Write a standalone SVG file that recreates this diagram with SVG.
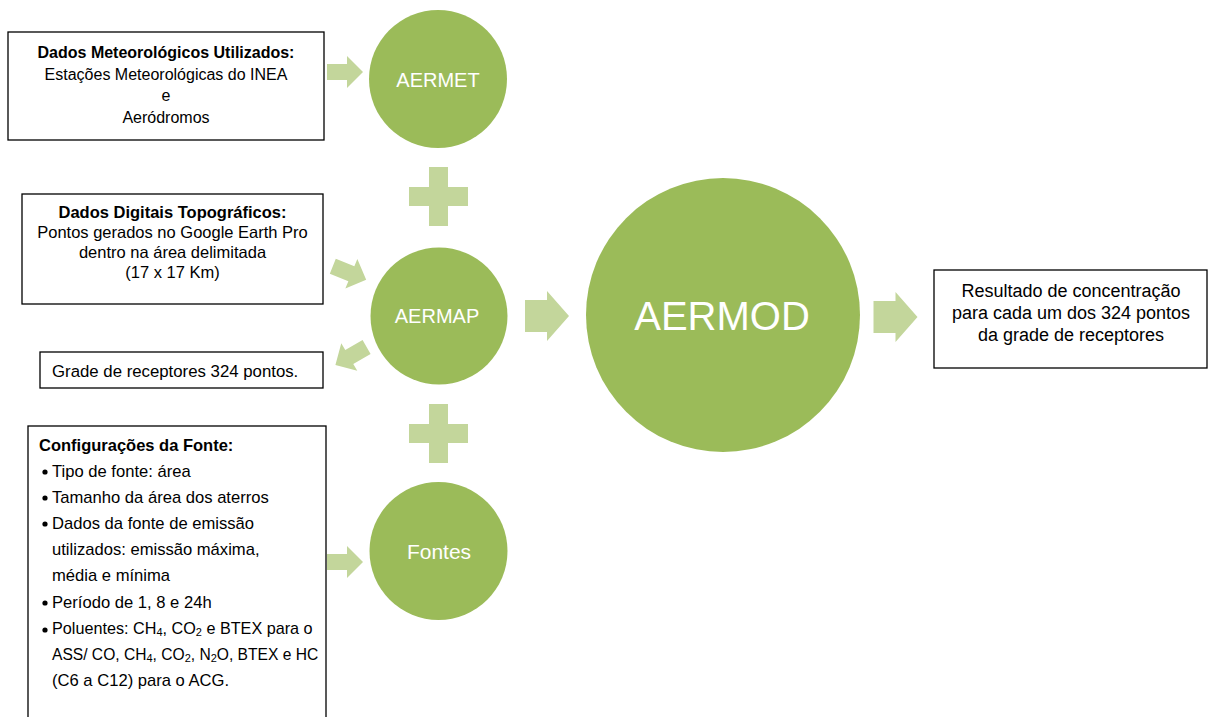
<svg xmlns="http://www.w3.org/2000/svg" width="1208" height="717" viewBox="0 0 1208 717">
<defs>
<style>
.box{fill:#fff;stroke:#000;stroke-width:1.3}
.circ{fill:#9BBB59}
.light{fill:#C3D69B}
.t{font-family:"Liberation Sans",Arial,sans-serif;fill:#000}
.b{font-weight:bold}
.ct{font-family:"Liberation Sans",Arial,sans-serif;fill:#fff;text-anchor:middle}
.mid{text-anchor:middle}
.sub{font-size:11px}
</style>
<path id="arS" d="M-18,-8 H2 V-16 L18,0 L2,16 V8 H-18 Z"/>
<path id="arL" d="M-22,-16 H0 V-25 L22,0 L0,25 V16 H-22 Z"/>
<path id="plus" d="M-9.5,-29.5 H9.5 V-9.5 H29.5 V9.5 H9.5 V29.5 H-9.5 V9.5 H-29.5 V-9.5 H-9.5 Z"/>
</defs>
<rect width="1208" height="717" fill="#fff"/>

<g id="connectors">
<use href="#arS" class="light" transform="translate(345,72)"/>
<use href="#arS" class="light" transform="translate(349.5,273) rotate(22)"/>
<use href="#arS" class="light" transform="translate(351,356) rotate(150)"/>
<use href="#arS" class="light" transform="translate(345,562)"/>
<use href="#plus" class="light" transform="translate(438.5,196.5)"/>
<use href="#plus" class="light" transform="translate(438.5,433.5)"/>
<use href="#arL" class="light" transform="translate(547,316)"/>
<use href="#arL" class="light" transform="translate(895.5,317)"/>
</g>

<g id="box-meteo">
<rect class="box" x="8" y="32" width="316" height="108"/>
<text class="t mid" font-size="16" x="166"><tspan class="b" x="166" y="58">Dados Meteorológicos Utilizados:</tspan><tspan x="166" y="80">Estações Meteorológicas do INEA</tspan><tspan x="166" y="101">e</tspan><tspan x="166" y="123">Aeródromos</tspan></text>
</g>

<g id="box-topo">
<rect class="box" x="22" y="194" width="301" height="110"/>
<text class="t mid" font-size="16.5" x="172.5"><tspan class="b" x="172.5" y="218">Dados Digitais Topográficos:</tspan><tspan x="172.5" y="238">Pontos gerados no Google Earth Pro</tspan><tspan x="172.5" y="258">dentro na área delimitada</tspan><tspan x="172.5" y="278">(17 x 17 Km)</tspan></text>
</g>

<g id="box-grade">
<rect class="box" x="40" y="352" width="283" height="36"/>
<text class="t" font-size="16.8" x="52" y="377">Grade de receptores 324 pontos.</text>
</g>

<g id="box-config">
<rect class="box" x="28" y="426" width="298" height="300"/>
<text class="t b" font-size="16.5" x="39" y="451">Configurações da Fonte:</text>
<g fill="#000">
<circle cx="45" cy="472" r="2.6"/>
<circle cx="45" cy="498" r="2.6"/>
<circle cx="45" cy="524" r="2.6"/>
<circle cx="45" cy="603" r="2.6"/>
<circle cx="45" cy="630" r="2.6"/>
</g>
<text class="t" font-size="16.6">
<tspan x="52" y="477">Tipo de fonte: área</tspan>
<tspan x="52" y="503">Tamanho da área dos aterros</tspan>
<tspan x="52" y="529">Dados da fonte de emissão</tspan>
<tspan x="52" y="555">utilizados: emissão máxima,</tspan>
<tspan x="52" y="581">média e mínima</tspan>
<tspan x="52" y="608">Período de 1, 8 e 24h</tspan>
</text>
<text class="t" font-size="16.2" x="52" y="634">Poluentes: CH<tspan class="sub" dy="2">4</tspan><tspan dy="-2">, CO</tspan><tspan class="sub" dy="2">2</tspan><tspan dy="-2"> e BTEX para o</tspan></text>
<text class="t" font-size="15.6" x="52" y="660">ASS/ CO, CH<tspan class="sub" dy="2">4</tspan><tspan dy="-2">, CO</tspan><tspan class="sub" dy="2">2</tspan><tspan dy="-2">, N</tspan><tspan class="sub" dy="2">2</tspan><tspan dy="-2">O, BTEX e HC</tspan></text>
<text class="t" font-size="16.6" x="52" y="686">(C6 a C12) para o ACG.</text>
</g>

<g id="node-aermet">
<circle class="circ" cx="438" cy="79" r="69"/>
<text class="ct" font-size="20" x="438" y="87">AERMET</text>
</g>

<g id="node-aermap">
<circle class="circ" cx="439" cy="316" r="68.5"/>
<text class="ct" font-size="20" x="437" y="323">AERMAP</text>
</g>

<g id="node-fontes">
<circle class="circ" cx="438.5" cy="551" r="69"/>
<text class="ct" font-size="21" x="439" y="559">Fontes</text>
</g>

<g id="node-aermod">
<circle class="circ" cx="723" cy="315" r="137"/>
<text class="ct" font-size="40" x="722" y="330">AERMOD</text>
</g>

<g id="box-result">
<rect class="box" x="934" y="270" width="273" height="98"/>
<text class="t mid" font-size="18" x="1071"><tspan x="1071" y="297">Resultado de concentração</tspan><tspan x="1071" y="319">para cada um dos 324 pontos</tspan><tspan x="1071" y="341">da grade de receptores</tspan></text>
</g>
</svg>
